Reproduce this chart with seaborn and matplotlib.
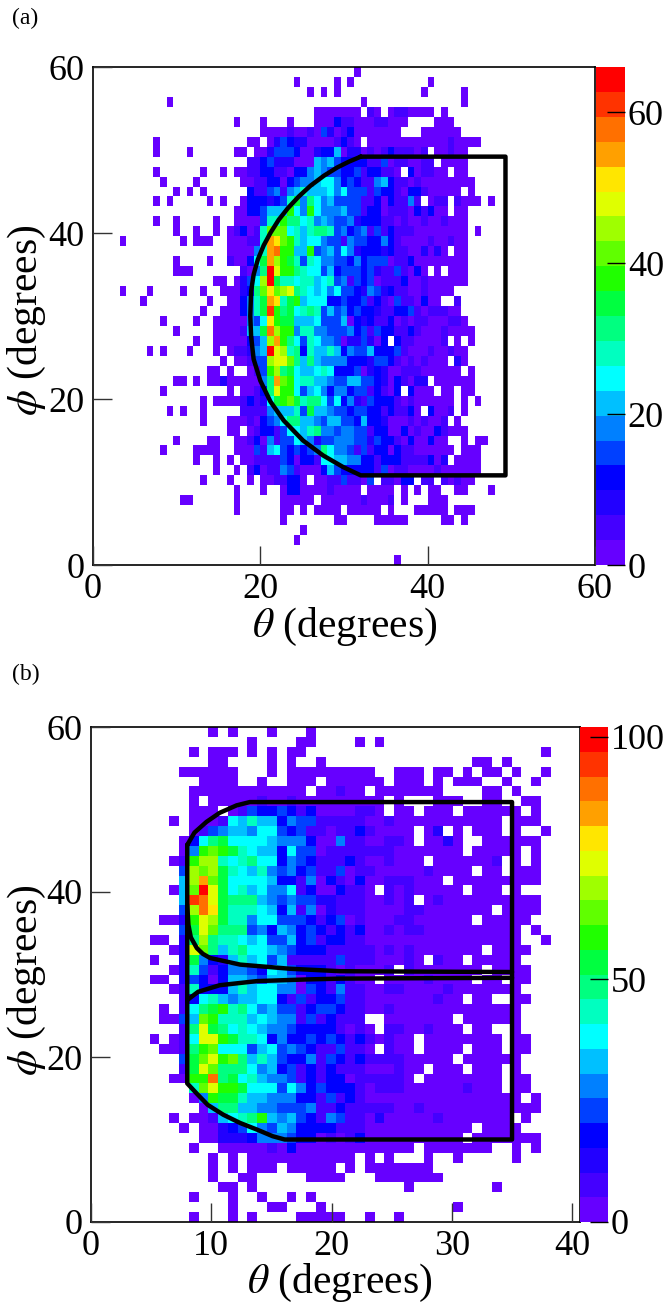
import numpy as np
import pandas as pd
import matplotlib
matplotlib.use('Agg')
import matplotlib.pyplot as plt
from matplotlib.colors import ListedColormap
import seaborn as sns

sns.set_theme(style='ticks')
plt.rcParams['font.family'] = ['Liberation Serif', 'DejaVu Serif']
plt.rcParams['mathtext.fontset'] = 'stix'
plt.rcParams['text.color'] = 'black'
plt.rcParams['xtick.labelcolor'] = 'black'
plt.rcParams['ytick.labelcolor'] = 'black'

# each row runs top to bottom, "col:levels" gives colour steps (base 20) from that column
rows_a = [
    "39:0",
    "30:0 36:0 38:0 50:0",
    "32:0 34:0 36:0 49:0 55:0",
    "11:0 40:0 55:0",
    "33:0000000 41:10 44:0110000 52:0",
    "21:0 25:0 29:0 33:00031100011000 51:000",
    "25:000010010420130000000 49:000000",
    "9:0 23:00 26:02432200001310 41:000000000000 53:10000",
    "9:0 14:0 21:00 24:00244430023360220101311101 51:00100",
    "23:1134222000656433331140110011 52:0000",
    "9:0 16:0 19:0 21:0011331103356544334133110 47:301100 54:00",
    "10:0 15:0 22:00113303455677534311563110100000000",
    "12:0 14:0 16:0 23:31145156866675744414331033100000 56:0",
    "9:0 11:0 17:0 19:0 22:03332348a597564444113031151 50:011 54:1000 59:0",
    "21:00334666b75b75556441330111031300 54:00",
    "9:0 12:0 18:0 21:0000488b997856544523331101001001000",
    "12:0 15:0 18:0 20:013018ccc786899845345141311100000000 57:0",
    "4:0 13:0 15:000 20:000118gfcb86775441544335310000100100",
    "20:000058ghbb66b45647523332311002020 54:00",
    "12:0 17:0 20:10037agdba84875544353444011300000000",
    "12:000 22:1059jebb98774634443421141030 51:0 53:000",
    "18:00 21:0247dja8878867845143401113001000000",
    "4:0 8:0 13:0 16:0 19:000239cfcde987675744325423110010000",
    "7:0 17:0 20:00358agf8ab677733433413104110300 54:1",
    "16:0 19:000358aib9a7898464534332113341011100",
    "10:0 15:0 18:00000547fbaa66674446032311301011000110",
    "12:0 18:0000166ahdbb588554445341433113100010000",
    "15:0 18:00000346dgb974875540224203 45:31100001 54:0 56:0",
    "8:0 10:0 14:0 18:0 20:011256jed893866863544633341000100100",
    "19:0 21:00144deec96965555333244310101000 54:20",
    "17:00 20:0 23:014bd9a7667873334023200111000000 56:0",
    "12:00 15:0 17:0020000059gcb78866544664432031022 51:000000",
    "10:0 20:0 22:00139ebb7467535534413103 47:3000 52:00 55:00",
    "16:0 18:000013127abca89974735214333101000000 55:0 57:0",
    "11:0 13:0 16:0 22:1111566684a6654434433131130 50:3001 55:0",
    "16:0 20:000103457996654664436332000101001 54:0",
    "20:00 23:013314776895545544133003010031000",
    "12:0 17:00 21:00130514476524455544243310300300 55:0 57:00",
    "10:0 15:0000 21:000416743434597554141330311000000 55:000",
    "15:0 18:0 20:0 22:0011114303317766553313331111302 54:0000",
    "18:0 21:0 23:13011541000364333331401100001000000",
    "16:0 20:0 23:0 25:0011330 33:001141104 43:11033 49:11 52:10100",
    "21:0 25:0 28:033000010000 41:0000 46:0 48:0 50:00 54:00 59:0",
    "13:00 21:0 28:00000 34:000000 40:1 41:000 44:1 46:0 50:000",
    "21:0 28:00 31:0 33:0000 38:00000 44:0 48:00000 54:000",
    "28:0 36:00 42:00000 52:00 55:0",
    "31:0",
    "30:0",
    "",
    "45:0",
]

rows_b = [
    "12:0 14:0 18:0 22:0",
    "16:0 21:00 27:0 29:0",
    "10:0 12:000 16:0 18:0 20:00 46:0",
    "12:00 18:0 20:0 23:0 39:00 42:0",
    "9:000000 18:0 20:000000000 31:000 35:00 38:0 40:00 43:0 46:0",
    "11:0000 17:0 20:000 24:000000 31:000 35:0 37:000 42:0 45:0",
    "10:000000000000 23:00100 29:0000000 40:00 43:0",
    "10:0 12:00000 17:1 18:00 20:1 21:000000000 31:0 35:000 40:00 44:00",
    "10:000 14:0143343130000110 31:00 34:000 38:000000 45:0",
    "8:0 10:000 13:17686635441111100100000000000 43:000",
    "10:01456657743411011310000 34:02 37:0 39:000 43:0 46:0",
    "9:0379a7777655530051100110 34:0020 40:000000",
    "9:05bcba87663744011111110000000 39:00000 45:0",
    "8:01bdd878977354311131001000 35:0000001 43:0 45:0",
    "9:4dcda8768545341140110000010000 40:00 43:000",
    "9:6dgca7777633150310300111000 37:000000000",
    "8:06cjea786755713003110 30:101 33:00000 39:000 43:0",
    "9:6ihea9996545442211100101 34:01 36:0000000000",
    "9:4dhfa888763615021110000110000000 42:0000",
    "7:002beda8857744431340100011000000 40:00000",
    "9:4aec999453653431313001011000000000 43:0 45:0",
    "6:00 9:29d98876744634133110000000000000000 46:0",
    "8:02ec9689776543331111101010000000 41:0000",
    "6:0 9:2a53268674611111411100010 35:100 39:00000",
    "8:02841355437643331010001 32:10000000 41:0000",
    "6:00 9:24303665466503313100 30:000010000 40:00 43:00",
    "8:018333686775504315110011000010000000",
    "9:13786566773141334110000000100 39:00 43:00",
    "7:0 9:179ab897564413443110010000000000000",
    "7:0046cb888676551413111 30:0000000 38:000000",
    "9:19ea9787655433331010 30:11001000 39:00 43:0",
    "6:0 8:017eeba887353343431310100 34:00000000 43:00",
    "7:0019bc7774674543114110 30:100 34:0000 39:000 43:00",
    "9:4acebc9686433514313111100000 38:000000",
    "9:1aec999756341313111000100 35:000 39:000 43:0",
    "8:00bbh9a786554131330111110 34:00000000 43:00",
    "10:8cebba77747534333101110000001000 43:00",
    "10:05baa86655533141310000000000000000 45:0",
    "11:06996655444511311111001000000000000",
    "8:0 10:0016789b6564315411020000010000000 44:0",
    "9:0 11:00 13:23475465333311100000000000 40:0000",
    "11:00 13:2223555433010130000000000 39:00000 44:00",
    "10:0 13:00000 18:1 19:0 20:3 21:000000000000 34:0000000 43:0 45:0",
    "12:0 14:0 16:00000000000 28:0 30:0 34:0 37:0 43:0",
    "12:0 14:0 16:000 20:00000 26:0 28:0000000",
    "12:0 15:00 22:0000 29:0000000",
    "13:00 16:0 32:0 41:0",
    "10:0 14:0 17:0 20:0 22:0",
    "14:0 18:00 23:0 37:0",
    "10:0 14:0 16:0 21:00000 28:0 31:0",
]

# colour steps of the z axis, bottom to top
palette = ['#6600ff', '#4400ff', '#2200ff', '#0000ff', '#0040ff', '#0080ff', '#00c0ff',
           '#00ffff', '#00ffc0', '#00ff80', '#00ff40', '#20ff00', '#60ff00', '#9fff00',
           '#dfff00', '#ffe600', '#ffa000', '#ff7000', '#ff3300', '#ff0000']

# selection boundaries in degrees
outline_theta_a = [32.0, 30.6, 29.2, 27.6, 26.0, 24.6, 23.3, 22.2, 21.2, 20.4, 19.7, 19.2, 18.9,
                   18.8, 18.9, 19.2, 20.0, 21.2, 22.8, 25.1, 27.5, 29.9, 32.0, 49.3, 49.3, 32.0]
outline_phi_a = [49.2, 48.6, 47.9, 46.9, 45.7, 44.4, 43.0, 41.6, 40.0, 38.5, 36.8, 35.0, 33.0,
                 30.0, 27.5, 24.8, 22.2, 19.7, 17.4, 15.0, 13.2, 11.8, 10.8, 10.8, 49.2, 49.2]

outline_theta_b = [8.0, 8.6, 9.6, 10.7, 12.1, 13.2, 35.0, 35.0, 16.1, 15.1, 13.8, 12.4, 11.0, 9.7, 8.9, 8.0, 8.0]
outline_phi_b = [45.7, 47.2, 48.5, 49.6, 50.5, 50.9, 50.9, 10.0, 10.0, 10.4, 11.2, 12.0, 13.0, 14.2, 15.4, 16.8, 45.7]
upper_theta_b = [8.0, 8.1, 8.3, 8.8, 9.3, 9.9, 12.4, 16.5, 20.7, 35.0]
upper_phi_b = [38.4, 36.0, 34.5, 33.2, 32.5, 32.0, 31.2, 30.7, 30.4, 30.3]
lower_theta_b = [8.0, 8.9, 10.7, 13.8, 17.9, 20.7, 35.0]
lower_phi_b = [26.9, 27.9, 28.7, 29.2, 29.4, 29.5, 29.6]

W, H = 665, 1302
PHI_MAX = 60.0
TICK_SIZE = 26


def read_grid(rows, ncols, zmax):
    grid = np.full((len(rows), ncols), np.nan)
    for i, row in enumerate(rows):
        for part in row.split():
            start, levels = part.split(':')
            for k, ch in enumerate(levels):
                grid[i, int(start) + k] = (int(ch, 20) + 0.5) * zmax / 20
    return pd.DataFrame(grid)


def box(left, top, right, bottom):
    return [left / W, 1 - bottom / H, (right - left) / W, (bottom - top) / H]


def draw_panel(rows, ncols, theta_max, zmax, xticks, zticks, ax_box, cax_box, curves):
    ax = fig.add_axes(box(*ax_box))
    cax = fig.add_axes(box(*cax_box))
    df = read_grid(rows, ncols, zmax)
    sns.heatmap(df, ax=ax, cbar_ax=cax, cmap=ListedColormap(palette), vmin=0, vmax=zmax,
                xticklabels=False, yticklabels=False, cbar_kws={'ticks': zticks})

    dx = theta_max / ncols
    dy = PHI_MAX / len(rows)
    for theta, phi in curves:
        sns.lineplot(x=np.array(theta) / dx, y=(PHI_MAX - np.array(phi)) / dy, ax=ax, sort=False,
                     estimator=None, color='black', lw=3.2, solid_joinstyle='round')

    ax.set_xticks(np.array(xticks) / dx)
    ax.set_xticklabels([str(t) for t in xticks])
    yticks = [0, 20, 40, 60]
    ax.set_yticks((PHI_MAX - np.array(yticks)) / dy)
    ax.set_yticklabels([str(t) for t in yticks], rotation=0)
    ax.set_axisbelow(False)
    ax.tick_params(axis='both', direction='in', length=14, width=1, color='#333333',
                   labelsize=TICK_SIZE, pad=6)
    ax.tick_params(axis='x', pad=6)
    for spine in ax.spines.values():
        spine.set_visible(True)
        spine.set_color('black')
        spine.set_linewidth(1.2)

    cax.set_axisbelow(False)
    cax.yaxis.set_ticks_position('right')
    cax.tick_params(axis='y', direction='in', length=13, width=1, color='black',
                    labelsize=TICK_SIZE, pad=2)


fig = plt.figure(figsize=(W / 100, H / 100), dpi=100)

draw_panel(rows_a, 75, 60.0, 66, [0, 20, 40, 60], [0, 20, 40, 60],
           (93, 67, 595, 565), (596, 67, 625, 565),
           [(outline_theta_a, outline_phi_a)])
draw_panel(rows_b, 50, 40.65, 102, [0, 10, 20, 30, 40], [0, 50, 100],
           (91, 727, 580, 1222), (580, 727, 608, 1222),
           [(outline_theta_b, outline_phi_b), (upper_theta_b, upper_phi_b),
            (lower_theta_b, lower_phi_b)])

labels = [('(a)', 12, 18), ('(b)', 12, 674)]
for text, x, y in labels:
    fig.text(x / W, 1 - y / H, text, fontsize=17, ha='left', va='center')

theta_label = r'$\theta$ (degrees)'
phi_label = r'$\phi$ (degrees)'
fig.text(345 / W, 1 - 627 / H, theta_label, fontsize=30, ha='center', va='center')
fig.text(340 / W, 1 - 1283 / H, theta_label, fontsize=30, ha='center', va='center')
fig.text(27 / W, 1 - 320 / H, phi_label, fontsize=30, ha='center', va='center', rotation=90)
fig.text(27 / W, 1 - 980 / H, phi_label, fontsize=30, ha='center', va='center', rotation=90)

fig.savefig('out.png', dpi=100, facecolor='white')
